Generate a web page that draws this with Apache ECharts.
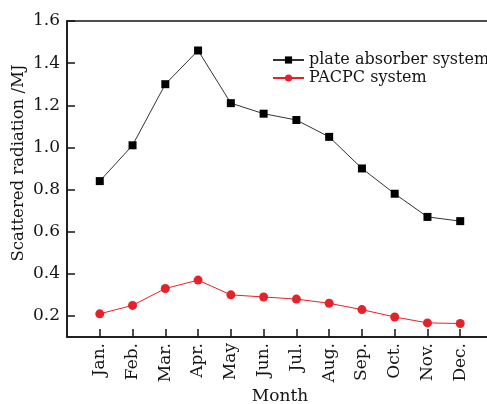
<!DOCTYPE html>
<html><head><meta charset="utf-8">
<script src="https://cdn.jsdelivr.net/npm/echarts@6/dist/echarts.min.js"></script>
<style>html,body{margin:0;padding:0;background:#fff}#c{width:487px;height:404px}</style>
</head><body><div id="c"></div>
<script>
const months = ['Jan.','Feb.','Mar.','Apr.','May','Jun.','Jul.','Aug.','Sep.','Oct.','Nov.','Dec.'];
const plateAbsorber = [0.84,1.01,1.30,1.46,1.21,1.16,1.13,1.05,0.90,0.78,0.67,0.65];
const pacpc = [0.21,0.25,0.33,0.37,0.30,0.29,0.28,0.26,0.23,0.195,0.167,0.164];
const yTicks = [0.2,0.4,0.6,0.8,1.0,1.2,1.4,1.6];
const xTicks = months.map((m,i)=>i+1);
const F = 'DejaVu Serif';
const C = '#151515';
const chart = echarts.init(document.getElementById('c'));
chart.setOption({
  animation:false,
  textStyle:{fontFamily:F},
  grid:{left:67,top:21,right:-6,bottom:67,show:true,borderColor:C,borderWidth:1.5,
        containLabel:false,outerBoundsMode:'none'},
  legend:{
    left:267, top:47, orient:'vertical', itemGap:2, itemWidth:31, itemHeight:9,
    textStyle:{fontFamily:F,fontSize:16,color:C},
    data:['plate absorber system','PACPC system']
  },
  xAxis:{
    type:'value', min:0, max:13,
    name:'Month', nameLocation:'middle', nameGap:51, nameMoveOverlap:false,
    nameTextStyle:{fontFamily:F,fontSize:17,color:C},
    axisLine:{lineStyle:{color:C,width:1.5}},
    splitLine:{show:false},
    axisTick:{inside:true,length:8,customValues:xTicks,lineStyle:{color:C,width:1.5}},
    axisLabel:{rotate:90,margin:6,customValues:xTicks,fontFamily:F,fontSize:17,color:C,
      formatter:v=>months[Math.round(v)-1]||''}
  },
  yAxis:{
    type:'value', min:0.1, max:1.6,
    name:'Scattered radiation /MJ', nameLocation:'middle', nameGap:40, nameMoveOverlap:false,
    nameTextStyle:{fontFamily:F,fontSize:16.5,color:C,padding:[0,0,0,32]},
    axisLine:{lineStyle:{color:C,width:1.5}},
    splitLine:{show:false},
    axisTick:{inside:true,length:8,customValues:yTicks,lineStyle:{color:C,width:1.5}},
    axisLabel:{margin:7,customValues:yTicks,fontFamily:F,fontSize:17,color:C,
      formatter:v=>v.toFixed(1)}
  },
  series:[
    {name:'plate absorber system',type:'line',symbol:'rect',symbolSize:8,
     itemStyle:{color:'#000'},lineStyle:{color:'#333',width:1},
     data:plateAbsorber.map((v,i)=>[i+1,v])},
    {name:'PACPC system',type:'line',symbol:'circle',symbolSize:9,
     itemStyle:{color:'#e52229'},lineStyle:{color:'#e52229',width:1},
     data:pacpc.map((v,i)=>[i+1,v])}
  ]
});
</script></body></html>
